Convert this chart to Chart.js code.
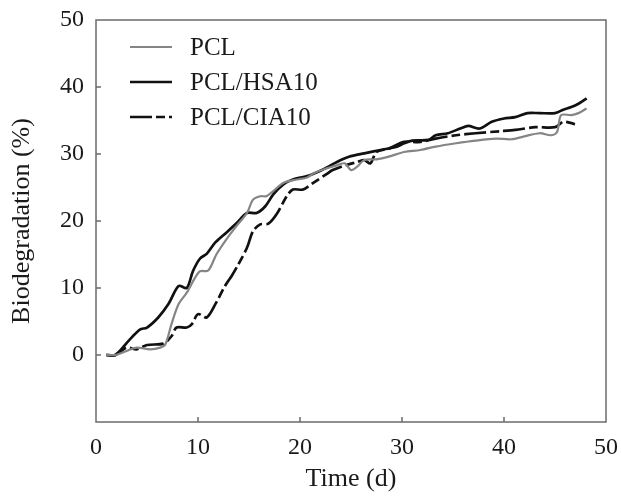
<!DOCTYPE html>
<html>
<head>
<meta charset="utf-8">
<script src="https://cdn.jsdelivr.net/npm/chart.js@4/dist/chart.umd.min.js"></script>
<style>
  html, body { margin: 0; padding: 0; background: #fff; overflow: hidden; }
  #wrap { width: 621px; height: 497px; position: relative; }
</style>
</head>
<body>
<div id="wrap"><canvas id="chart"></canvas></div>
<script>
// series data: time (d) and biodegradation (%)
const pclX = [1, 1.9, 3.0, 4.0, 5.3, 6.3, 6.8, 7.4, 8.1, 8.9, 9.7, 10.2, 11.0, 11.8, 12.8, 13.8, 14.8, 15.4, 16.1, 16.7, 17.4, 18.4, 19.7, 20.7, 21.3, 22.5, 23.6, 24.4, 25.0, 25.6, 26.3, 27.5, 28.7, 30.2, 31.8, 33.3, 35.3, 37.2, 39.2, 40.7, 41.9, 43.5, 44.6, 45.2, 45.6, 46.6, 47.3, 48.1];
const pclY = [0, 0, 0.6, 1.1, 0.85, 1.1, 1.6, 4.6, 7.6, 9.3, 11.5, 12.5, 12.6, 15.0, 17.3, 19.3, 21.2, 23.2, 23.7, 23.7, 24.5, 25.7, 26.2, 26.5, 27.1, 27.8, 28.3, 28.6, 27.6, 28.1, 29.1, 29.2, 29.6, 30.3, 30.6, 31.1, 31.6, 32.0, 32.3, 32.2, 32.6, 33.1, 32.8, 33.3, 35.8, 35.8, 36.1, 36.8];

const hsaX = [1, 1.9, 3.3, 4.3, 5.0, 6.1, 7.1, 8.1, 8.9, 9.5, 10.2, 10.85, 11.7, 12.8, 13.8, 14.8, 15.75, 16.6, 17.4, 18.4, 19.3, 20.7, 22.0, 23.0, 24.0, 24.8, 26.3, 27.9, 29.5, 30.2, 31.0, 32.6, 33.3, 34.5, 35.7, 36.5, 37.6, 38.8, 40.0, 41.1, 42.3, 43.5, 45.0, 45.8, 46.6, 47.3, 48.1];
const hsaY = [0, 0, 2.3, 3.8, 4.1, 5.6, 7.6, 10.3, 10.0, 12.5, 14.4, 15.1, 16.8, 18.3, 19.7, 21.2, 21.2, 22.2, 24.0, 25.5, 26.2, 26.7, 27.5, 28.3, 29.1, 29.6, 30.1, 30.6, 31.1, 31.6, 32.0, 32.1, 32.8, 33.1, 33.8, 34.2, 33.8, 34.8, 35.3, 35.5, 36.1, 36.1, 36.1, 36.6, 37.0, 37.5, 38.3];

const ciaX = [1, 1.9, 3.0, 4.0, 5.0, 6.6, 7.4, 7.9, 8.9, 9.4, 10.0, 10.85, 11.7, 12.65, 13.3, 13.95, 14.8, 15.4, 16.1, 16.9, 17.7, 18.7, 19.3, 20.3, 21.3, 22.6, 23.2, 24.4, 25.6, 26.3, 26.9, 27.5, 28.7, 30.2, 31.8, 33.3, 35.3, 37.2, 39.6, 41.1, 43.1, 45.0, 45.8, 46.6, 47.0];
const ciaY = [0, 0, 1.1, 0.85, 1.5, 1.7, 2.8, 4.1, 4.1, 4.6, 6.1, 5.6, 7.6, 10.3, 11.8, 13.5, 16.0, 18.5, 19.5, 19.6, 21.0, 23.7, 24.7, 24.7, 25.7, 27.0, 27.6, 28.3, 28.8, 29.1, 28.6, 30.3, 30.8, 31.8, 31.8, 32.3, 32.8, 33.1, 33.4, 33.6, 34.0, 34.0, 34.8, 34.6, 34.4];

const seriesNames = ['PCL', 'PCL/HSA10', 'PCL/CIA10'];
const xTicks = [0, 10, 20, 30, 40, 50];
const yTicks = [-10, 0, 10, 20, 30, 40, 50];

const toPoints = (xs, ys) => xs.map((x, i) => ({ x: x, y: ys[i] }));

const serif = '"Liberation Serif", "Times New Roman", serif';
const textColor = '#1a1a1a';
const frameColor = '#6b6b6b';

// frame, inward ticks and legend
const decorPlugin = {
  id: 'decor',
  afterDraw(chart) {
    const ctx = chart.ctx;
    const a = chart.chartArea;
    const xs = chart.scales.x;
    const ys = chart.scales.y;
    ctx.save();
    ctx.strokeStyle = frameColor;
    ctx.lineWidth = 1.5;
    ctx.strokeRect(a.left, a.top, a.right - a.left, a.bottom - a.top);
    ctx.beginPath();
    xTicks.slice(1, -1).forEach(v => {
      const px = xs.getPixelForValue(v);
      ctx.moveTo(px, a.bottom);
      ctx.lineTo(px, a.bottom - 5);
    });
    yTicks.slice(1, -1).forEach(v => {
      const py = ys.getPixelForValue(v);
      ctx.moveTo(a.left, py);
      ctx.lineTo(a.left + 5, py);
    });
    ctx.stroke();

    // legend
    ctx.font = '25px ' + serif;
    ctx.textBaseline = 'middle';
    ctx.fillStyle = textColor;
    chart.data.datasets.forEach((ds, i) => {
      const y = a.top + 27 + i * 35;
      ctx.beginPath();
      ctx.strokeStyle = ds.borderColor;
      ctx.lineWidth = ds.borderWidth;
      ctx.setLineDash(ds.borderDash || []);
      ctx.moveTo(a.left + 34, y);
      ctx.lineTo(a.left + 76, y);
      ctx.stroke();
      ctx.setLineDash([]);
      ctx.fillText(ds.label, a.left + 94, y + 1);
    });
    ctx.restore();
  }
};

const ctx = document.getElementById('chart').getContext('2d');
const chart = new Chart(ctx, {
  type: 'line',
  data: {
    datasets: [
      {
        label: seriesNames[0],
        data: toPoints(pclX, pclY),
        borderColor: '#858585',
        borderWidth: 2.2,
        pointRadius: 0,
        tension: 0.3,
        fill: false,
      },
      {
        label: seriesNames[1],
        data: toPoints(hsaX, hsaY),
        borderColor: '#111111',
        borderWidth: 2.7,
        pointRadius: 0,
        tension: 0.3,
        fill: false,
      },
      {
        label: seriesNames[2],
        data: toPoints(ciaX, ciaY),
        borderColor: '#111111',
        borderWidth: 2.7,
        borderDash: [22, 4, 9, 4],
        pointRadius: 0,
        tension: 0.3,
        fill: false,
      },
    ],
  },
  options: {
    responsive: true,
    maintainAspectRatio: false,
    animation: false,
    layout: { padding: { top: 20, right: 15, left: 0, bottom: 0 } },
    plugins: {
      legend: { display: false },
      tooltip: { enabled: false },
    },
    scales: {
      x: {
        type: 'linear',
        min: 0,
        max: 50,
        afterBuildTicks: scale => { scale.ticks = xTicks.map(v => ({ value: v })); },
        afterFit: scale => {
          scale.height = 75;
          scale.paddingLeft = 0;
          scale.paddingRight = 0;
        },
        grid: { display: false, drawTicks: false },
        border: { display: false },
        ticks: {
          padding: 11,
          color: textColor,
          font: { family: serif, size: 24 },
          maxRotation: 0,
        },
        title: {
          display: true,
          text: 'Time (d)',
          color: textColor,
          font: { family: serif, size: 26 },
          padding: { top: 0, bottom: 2 },
        },
      },
      y: {
        min: -10,
        max: 50,
        afterBuildTicks: scale => { scale.ticks = yTicks.map(v => ({ value: v })); },
        afterFit: scale => {
          scale.width = 96;
          scale.paddingTop = 0;
          scale.paddingBottom = 0;
        },
        grid: { display: false, drawTicks: false },
        border: { display: false },
        ticks: {
          padding: 12,
          color: textColor,
          font: { family: serif, size: 24 },
          callback: v => (v < 0 ? '' : v),
        },
        title: {
          display: true,
          text: 'Biodegradation (%)',
          color: textColor,
          font: { family: serif, size: 26 },
          padding: { top: 7, bottom: 0 },
        },
      },
    },
  },
  plugins: [decorPlugin],
});
</script>
</body>
</html>
